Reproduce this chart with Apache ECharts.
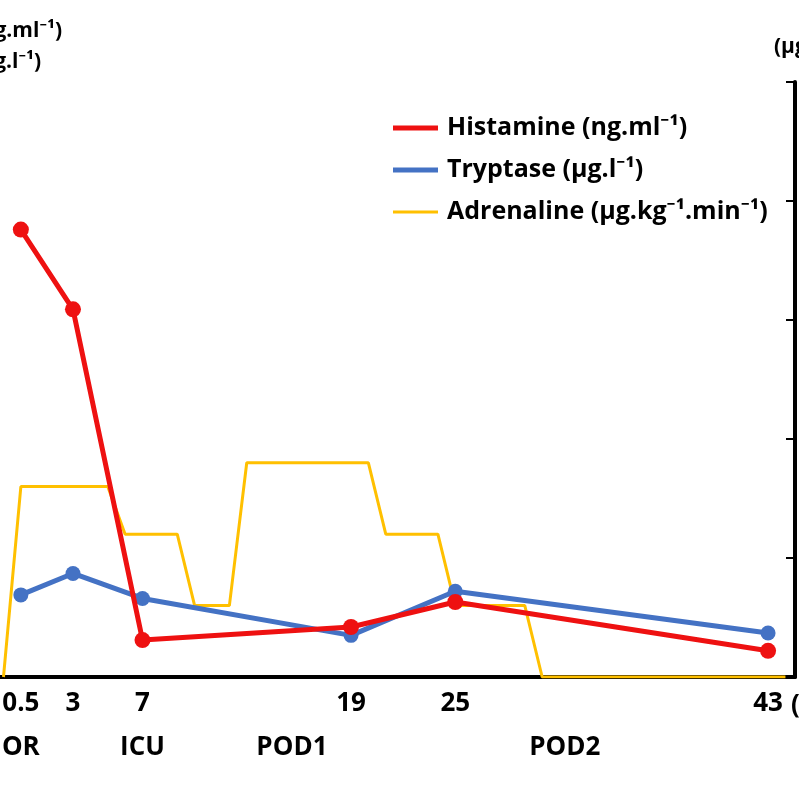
<!DOCTYPE html>
<html>
<head>
<meta charset="utf-8" />
<title>Histamine / Tryptase / Adrenaline</title>
<script src="https://cdn.jsdelivr.net/npm/echarts@6/dist/echarts.min.js"></script>
<style>
	html, body { margin: 0; padding: 0; background: #fff; }
	#chart { width: 799px; height: 799px; }
</style>
</head>
<body>
<div id="chart"></div>
<script>
// time axis: where each label sits on the axis (h) and the text printed under it
var timePos = [0, 3, 7, 19, 25, 43];
var timeLabels = ['0.5', '3', '7', '19', '25', '43'];
// ward / phase labels on the second row
var phasePos = [0, 7, 15.6, 31.3];
var phaseLabels = ['OR', 'ICU', 'POD1', 'POD2'];

// measured samples (left axis)
var histamine = [37.6, 30.9, 3.1, 4.2, 6.3, 2.2];
var tryptase = [6.9, 8.7, 6.6, 3.5, 7.2, 3.7];

// adrenaline infusion (right axis)
var adrTime = [-1, 0, 5, 6, 9, 10, 12, 13, 20, 21, 24, 25, 29, 30, 44];
var adrRate = [0, 0.16, 0.16, 0.12, 0.12, 0.06, 0.06, 0.18, 0.18, 0.12, 0.12, 0.06, 0.06, 0, 0];

var FONT = "'Open Sans', 'Noto Sans', sans-serif";

function pairs(xs, ys) {
	return xs.map(function(x, i) { return [x, ys[i]]; });
}

var chart = echarts.init(document.getElementById('chart'));

var option = {
	backgroundColor: '#fff',
	animation: false,
	grid: { left: 0, right: 4, top: 82, bottom: 122, containLabel: false, outerBoundsMode: 'none' },
	legend: {
		orient: 'vertical',
		left: 393,
		top: 113,
		padding: 0,
		itemWidth: 45,
		itemHeight: 30,
		itemGap: 12,
		textStyle: { fontFamily: FONT, fontWeight: 'bold', fontSize: 25, color: '#000', lineHeight: 30, padding: [0, 0, 0, 4] },
		data: [
			{ name: 'Histamine (ng.ml⁻¹)', icon: 'path://M0,0H45V5H0Z' },
			{ name: 'Tryptase (µg.l⁻¹)', icon: 'path://M0,0H45V5H0Z' },
			{ name: 'Adrenaline (µg.kg⁻¹.min⁻¹)', icon: 'path://M0,0H45V3H0Z' }
		]
	},
	xAxis: [{
		type: 'value',
		min: -1.2,
		max: 44.55,
		splitLine: { show: false },
		axisLine: { onZero: false, lineStyle: { color: '#000', width: 4 } },
		axisTick: { show: false },
		axisLabel: {
			customValues: timePos,
			margin: 14,
			fontFamily: FONT, fontWeight: 'bold', fontSize: 26, color: '#000',
			formatter: function(v) {
				var i = timePos.indexOf(v);
				return i < 0 ? '' : timeLabels[i];
			}
		},
		name: '(h)',
		nameLocation: 'end',
		nameGap: -4,
		nameTextStyle: { fontFamily: FONT, fontWeight: 'bold', fontSize: 26, color: '#000', verticalAlign: 'top', padding: [16, 0, 0, 0] }
	}, {
		type: 'value',
		min: -1.2,
		max: 44.55,
		position: 'bottom',
		offset: 44,
		splitLine: { show: false },
		axisLine: { show: false, onZero: false },
		axisTick: { show: false },
		axisLabel: {
			customValues: phasePos,
			margin: 14,
			fontFamily: FONT, fontWeight: 'bold', fontSize: 26, color: '#000',
			formatter: function(v) {
				var i = phasePos.indexOf(v);
				return i < 0 ? '' : phaseLabels[i];
			}
		}
	}],
	yAxis: [{
		type: 'value',
		min: 0,
		max: 50,
		interval: 10,
		position: 'left',
		splitLine: { show: false },
		axisLine: { show: false, onZero: false },
		axisTick: { show: false },
		axisLabel: { show: false }
	}, {
		type: 'value',
		min: 0,
		max: 0.5,
		interval: 0.1,
		position: 'right',
		splitLine: { show: false },
		axisLine: { show: true, onZero: false, lineStyle: { color: '#000', width: 4 } },
		axisTick: { show: true, inside: true, length: 9, lineStyle: { color: '#000', width: 2 } },
		axisLabel: { show: false }
	}],
	graphic: [
		{ type: 'text', x: 62, y: 31, style: { text: '(ng.ml⁻¹)', textAlign: 'right', textVerticalAlign: 'middle', font: 'bold 21px ' + FONT, fill: '#000' } },
		{ type: 'text', x: 41, y: 62, style: { text: '(µg.l⁻¹)', textAlign: 'right', textVerticalAlign: 'middle', font: 'bold 21px ' + FONT, fill: '#000' } },
		{ type: 'text', x: 774, y: 47, style: { text: '(µg.kg⁻¹.min⁻¹)', textAlign: 'left', textVerticalAlign: 'middle', font: 'bold 21px ' + FONT, fill: '#000' } }
	],
	series: [{
		name: 'Adrenaline (µg.kg⁻¹.min⁻¹)',
		type: 'line',
		xAxisIndex: 0,
		yAxisIndex: 1,
		data: pairs(adrTime, adrRate),
		showSymbol: false,
		symbol: 'none',
		color: '#FFC000',
		lineStyle: { color: '#FFC000', width: 3 },
		z: 3
	}, {
		name: 'Tryptase (µg.l⁻¹)',
		type: 'line',
		xAxisIndex: 0,
		yAxisIndex: 0,
		data: pairs(timePos, tryptase),
		symbol: 'circle',
		symbolSize: 15,
		color: '#4472C4',
		lineStyle: { color: '#4472C4', width: 5 },
		itemStyle: { color: '#4472C4' },
		z: 4
	}, {
		name: 'Histamine (ng.ml⁻¹)',
		type: 'line',
		xAxisIndex: 0,
		yAxisIndex: 0,
		data: pairs(timePos, histamine),
		symbol: 'circle',
		symbolSize: 16,
		color: '#EE1111',
		lineStyle: { color: '#EE1111', width: 5 },
		itemStyle: { color: '#EE1111' },
		z: 5
	}]
};

chart.setOption(option);
</script>
</body>
</html>
